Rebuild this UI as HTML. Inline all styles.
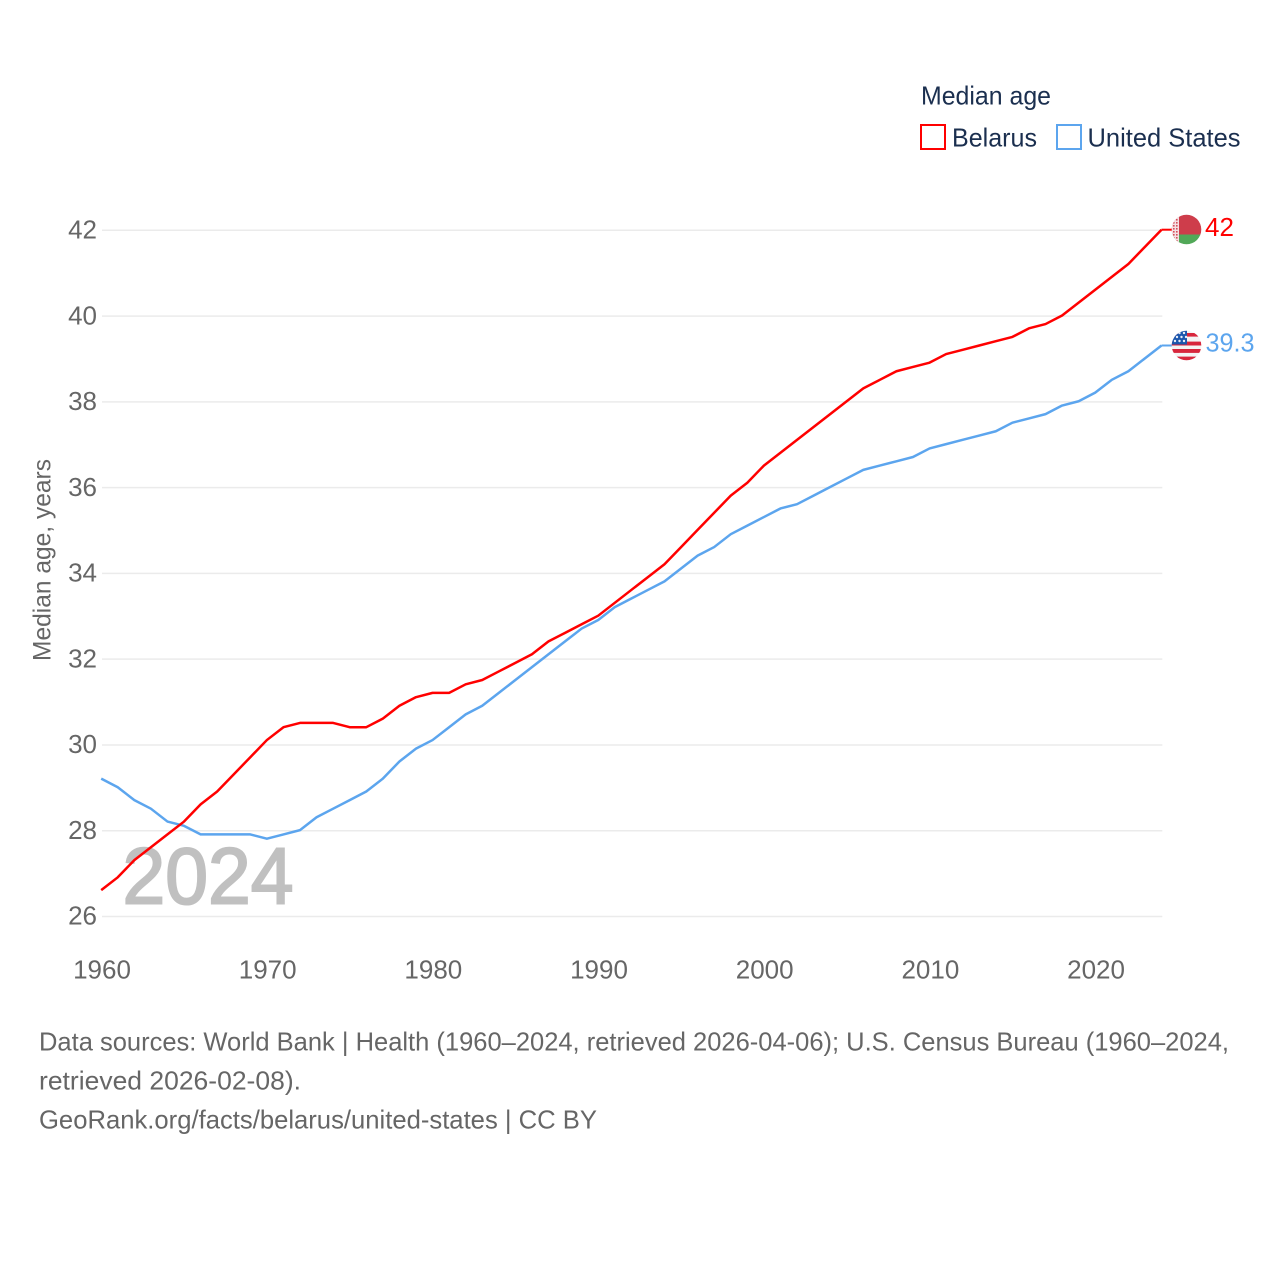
<!DOCTYPE html>
<html lang="en">
<head>
<meta charset="utf-8">
<title>Median age: Belarus and United States</title>
<style>
html,body{margin:0;padding:0;background:#fff;width:1280px;height:1280px;overflow:hidden}
svg{display:block}
text{font-family:"Liberation Sans",sans-serif}
</style>
</head>
<body>
<svg id="chart" xmlns="http://www.w3.org/2000/svg" width="1280" height="1280" viewBox="0 0 1280 1280">
  <defs>
    <clipPath id="clip-by"><circle cx="1186.5" cy="229.5" r="14.8"/></clipPath>
    <clipPath id="clip-us"><circle cx="1186.5" cy="345.5" r="14.8"/></clipPath>
    <pattern id="by-ornament" width="3" height="3" patternUnits="userSpaceOnUse" x="1172" y="215">
      <rect width="3" height="3" fill="#f5e0e3"/>
      <rect x="1" y="1" width="1.6" height="1.6" fill="#d4505d"/>
    </pattern>
  </defs>
  <rect width="1280" height="1280" fill="#fff"/>

  <text x="921" y="104.5" font-size="26" fill="#1b2f4f" textLength="130" lengthAdjust="spacingAndGlyphs">Median age</text>
  <rect x="921" y="125" width="24" height="24" fill="none" stroke="#ff0000" stroke-width="2"/>
  <text x="952" y="146.5" font-size="26" fill="#1b2f4f" textLength="85" lengthAdjust="spacingAndGlyphs">Belarus</text>
  <rect x="1057" y="125" width="24" height="24" fill="none" stroke="#5ca5ee" stroke-width="2"/>
  <text x="1087.5" y="146.5" font-size="26" fill="#1b2f4f" textLength="153" lengthAdjust="spacingAndGlyphs">United States</text>

  <g id="grid"></g>
  <g id="y-axis"></g>
  <g id="x-axis"></g>

  <text transform="translate(50.5,661) rotate(-90)" font-size="25" fill="#666" textLength="202" lengthAdjust="spacingAndGlyphs">Median age, years</text>

  <text x="122.5" y="903.5" font-size="80" stroke="#c0c0c0" stroke-width="2" fill="#c0c0c0" textLength="171" lengthAdjust="spacingAndGlyphs">2024</text>

  <g id="series" transform="translate(-0.8,-0.6)"></g>

  <g clip-path="url(#clip-by)">
    <rect x="1171" y="214" width="32" height="20.5" fill="#ce3d4b"/>
    <rect x="1171" y="234.5" width="32" height="11" fill="#52a858"/>
    <rect x="1171" y="214" width="8" height="32" fill="url(#by-ornament)"/>
  </g>

  <g clip-path="url(#clip-us)">
    <rect x="1171" y="330" width="32" height="32" fill="#f4f4f4"/>
    <rect x="1171" y="333" width="32" height="3.6" fill="#d8263c"/>
    <rect x="1171" y="341.6" width="32" height="3.9" fill="#d8263c"/>
    <rect x="1171" y="349" width="32" height="3.9" fill="#d8263c"/>
    <rect x="1171" y="356.6" width="32" height="5" fill="#d8263c"/>
    <rect x="1171" y="330" width="16" height="14.5" fill="#1c57ad"/>
    <g fill="#e8eef8">
      <circle cx="1175" cy="341" r="1.2"/><circle cx="1179.5" cy="341" r="1.2"/><circle cx="1184" cy="341" r="1.2"/>
      <circle cx="1177" cy="337" r="1.2"/><circle cx="1181.5" cy="337" r="1.2"/><circle cx="1186" cy="337" r="1.2"/>
      <circle cx="1179.5" cy="333" r="1.2"/><circle cx="1184" cy="333" r="1.2"/>
    </g>
  </g>

  <text x="1205" y="236" font-size="26" fill="#ff0000">42</text>
  <text x="1205.5" y="351.5" font-size="26" fill="#5ca5ee" textLength="49" lengthAdjust="spacingAndGlyphs">39.3</text>

  <text x="39" y="1050.5" font-size="26" fill="#666" textLength="1190" lengthAdjust="spacingAndGlyphs">Data sources: World Bank | Health (1960–2024, retrieved 2026-04-06); U.S. Census Bureau (1960–2024,</text>
  <text x="39" y="1089.5" font-size="26" fill="#666" textLength="262" lengthAdjust="spacingAndGlyphs">retrieved 2026-02-08).</text>
  <text x="39" y="1128.5" font-size="26" fill="#666" textLength="558" lengthAdjust="spacingAndGlyphs">GeoRank.org/facts/belarus/united-states | CC BY</text>
</svg>
<script>
const years = [1960,1961,1962,1963,1964,1965,1966,1967,1968,1969,1970,1971,1972,1973,1974,1975,1976,1977,1978,1979,1980,1981,1982,1983,1984,1985,1986,1987,1988,1989,1990,1991,1992,1993,1994,1995,1996,1997,1998,1999,2000,2001,2002,2003,2004,2005,2006,2007,2008,2009,2010,2011,2012,2013,2014,2015,2016,2017,2018,2019,2020,2021,2022,2023,2024];
const belarusValues = [26.6,26.9,27.3,27.6,27.9,28.2,28.6,28.9,29.3,29.7,30.1,30.4,30.5,30.5,30.5,30.4,30.4,30.6,30.9,31.1,31.2,31.2,31.4,31.5,31.7,31.9,32.1,32.4,32.6,32.8,33.0,33.3,33.6,33.9,34.2,34.6,35.0,35.4,35.8,36.1,36.5,36.8,37.1,37.4,37.7,38.0,38.3,38.5,38.7,38.8,38.9,39.1,39.2,39.3,39.4,39.5,39.7,39.8,40.0,40.3,40.6,40.9,41.2,41.6,42.0];
const unitedStatesValues = [29.2,29.0,28.7,28.5,28.2,28.1,27.9,27.9,27.9,27.9,27.8,27.9,28.0,28.3,28.5,28.7,28.9,29.2,29.6,29.9,30.1,30.4,30.7,30.9,31.2,31.5,31.8,32.1,32.4,32.7,32.9,33.2,33.4,33.6,33.8,34.1,34.4,34.6,34.9,35.1,35.3,35.5,35.6,35.8,36.0,36.2,36.4,36.5,36.6,36.7,36.9,37.0,37.1,37.2,37.3,37.5,37.6,37.7,37.9,38.0,38.2,38.5,38.7,39.0,39.3];
const yTickValues = [26,28,30,32,34,36,38,40,42];
const xTickValues = [1960,1970,1980,1990,2000,2010,2020];

const SVG_NS = 'http://www.w3.org/2000/svg';
const plot = {left:102, right:1162.3, top:230.3, bottom:916.5};
const domainX = [1960, 2024];
const domainY = [26, 42];
function xScale(v){ return plot.left + (v - domainX[0]) / (domainX[1] - domainX[0]) * (plot.right - plot.left); }
function yScale(v){ return plot.bottom - (v - domainY[0]) / (domainY[1] - domainY[0]) * (plot.bottom - plot.top); }

const gridGroup = document.getElementById('grid');
const yAxisGroup = document.getElementById('y-axis');
const xAxisGroup = document.getElementById('x-axis');
const seriesGroup = document.getElementById('series');

yTickValues.forEach(function(v){
  const line = document.createElementNS(SVG_NS, 'line');
  
  
  line.setAttribute('x1', plot.left);
  line.setAttribute('x2', plot.right);
  line.setAttribute('y1', yScale(v));
  line.setAttribute('y2', yScale(v));
  line.setAttribute('stroke', '#ebebeb');
  line.setAttribute('stroke-width', '1.5');
  gridGroup.appendChild(line);

  const label = document.createElementNS(SVG_NS, 'text');
  
  
  label.setAttribute('x', 97);
  label.setAttribute('y', yScale(v) + 8.2);
  label.setAttribute('text-anchor', 'end');
  label.setAttribute('font-size', '26');
  label.setAttribute('fill', '#666');
  label.textContent = String(v);
  yAxisGroup.appendChild(label);
});

xTickValues.forEach(function(v){
  const label = document.createElementNS(SVG_NS, 'text');
  
  
  label.setAttribute('x', xScale(v));
  label.setAttribute('y', 978.5);
  label.setAttribute('text-anchor', 'middle');
  label.setAttribute('font-size', '26');
  label.setAttribute('fill', '#666');
  label.textContent = String(v);
  xAxisGroup.appendChild(label);
});

function buildPoints(values){
  return values.map(function(v, i){ return xScale(years[i]).toFixed(2) + ',' + yScale(v).toFixed(2); }).join(' ');
}

const usLine = document.createElementNS(SVG_NS, 'polyline');


usLine.setAttribute('points', buildPoints(unitedStatesValues));
usLine.setAttribute('fill', 'none');
usLine.setAttribute('stroke', '#5ca5ee');
usLine.setAttribute('stroke-width', '2.5');
usLine.setAttribute('stroke-linejoin', 'round');
seriesGroup.appendChild(usLine);

const belarusLine = document.createElementNS(SVG_NS, 'polyline');


belarusLine.setAttribute('points', buildPoints(belarusValues));
belarusLine.setAttribute('fill', 'none');
belarusLine.setAttribute('stroke', '#ff0000');
belarusLine.setAttribute('stroke-width', '2.5');
belarusLine.setAttribute('stroke-linejoin', 'round');
seriesGroup.appendChild(belarusLine);

const belarusTail = document.createElementNS(SVG_NS, 'line');


belarusTail.setAttribute('x1', xScale(years[years.length - 1]));
belarusTail.setAttribute('x2', 1173);
belarusTail.setAttribute('y1', yScale(belarusValues[belarusValues.length - 1]));
belarusTail.setAttribute('y2', yScale(belarusValues[belarusValues.length - 1]));
belarusTail.setAttribute('stroke', '#ff0000');
belarusTail.setAttribute('stroke-width', '2');
seriesGroup.appendChild(belarusTail);

const usTail = document.createElementNS(SVG_NS, 'line');


usTail.setAttribute('x1', xScale(years[years.length - 1]));
usTail.setAttribute('x2', 1173);
usTail.setAttribute('y1', yScale(unitedStatesValues[unitedStatesValues.length - 1]));
usTail.setAttribute('y2', yScale(unitedStatesValues[unitedStatesValues.length - 1]));
usTail.setAttribute('stroke', '#5ca5ee');
usTail.setAttribute('stroke-width', '2');
seriesGroup.appendChild(usTail);
</script>
</body>
</html>
